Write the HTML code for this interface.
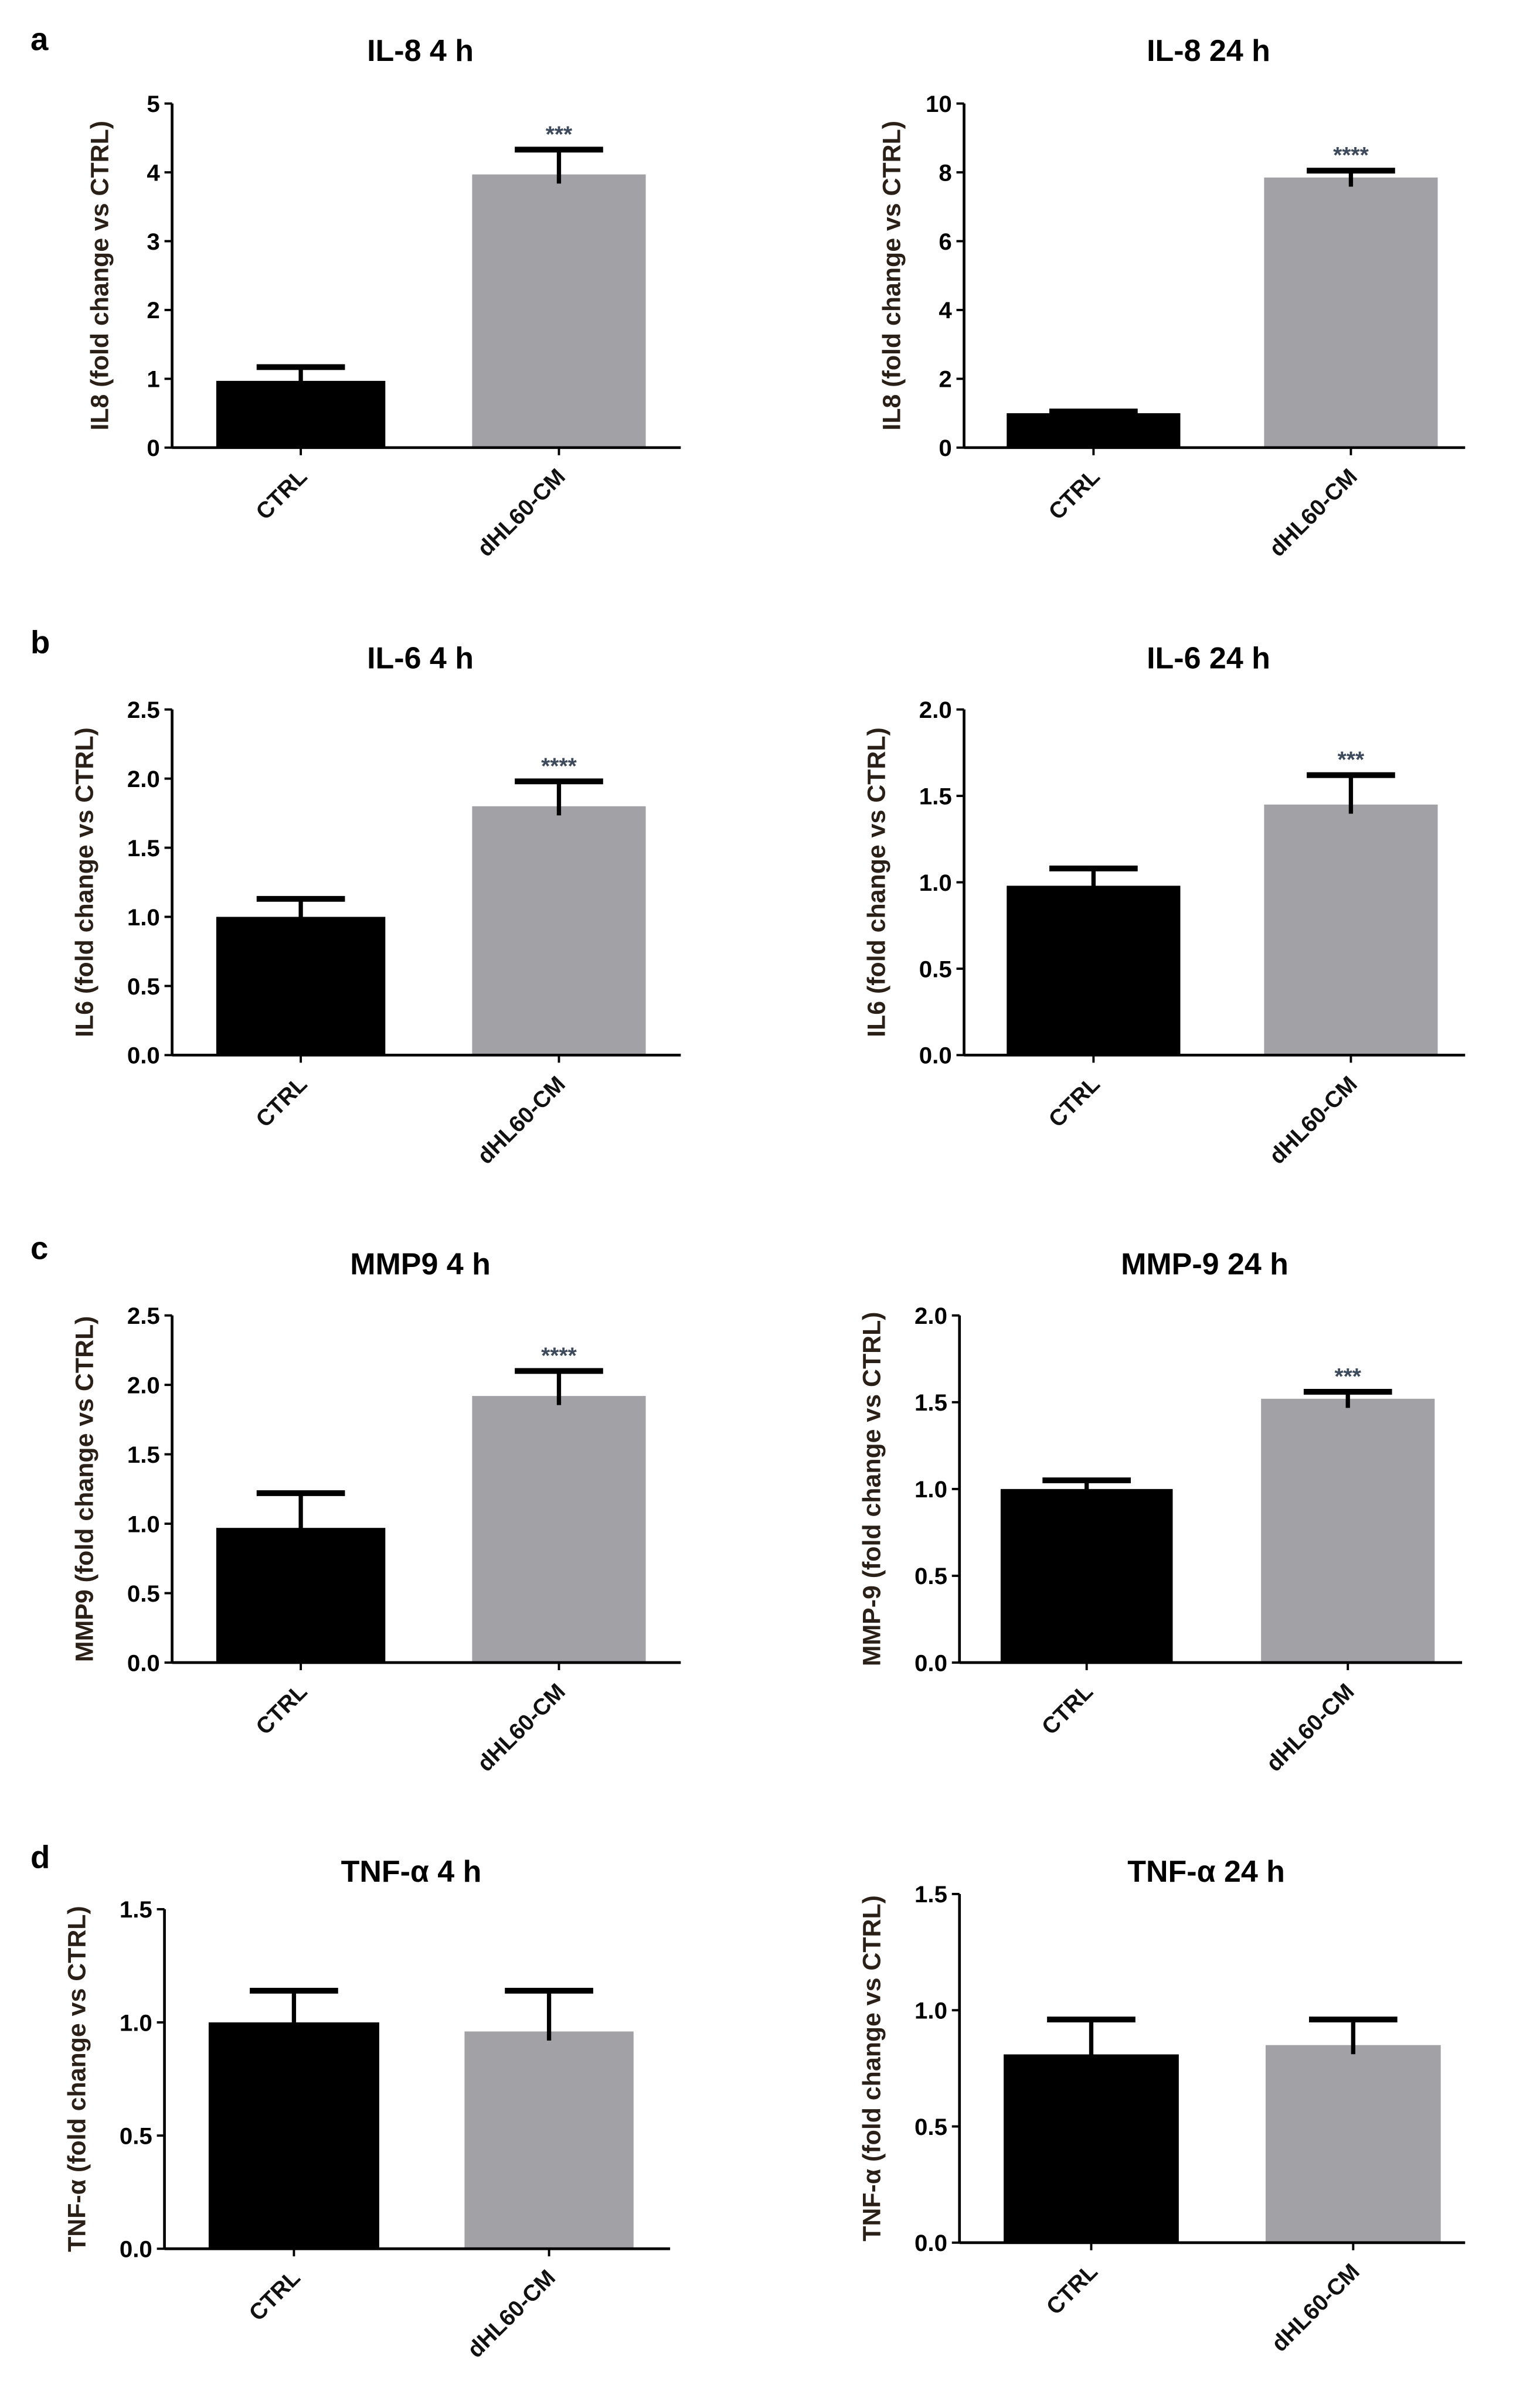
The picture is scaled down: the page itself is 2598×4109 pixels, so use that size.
<!DOCTYPE html>
<html><head><meta charset="utf-8"><style>
html,body{margin:0;padding:0;background:#fff;}
svg{display:block;font-family:"Liberation Sans",Arial,sans-serif;}
</style></head><body>
<svg id="fig" width="2598" height="4109" viewBox="0 0 1000 1581.6" xmlns="http://www.w3.org/2000/svg"></svg>
<script>
// ---- data ----
const categories = ["CTRL", "dHL60-CM"];
const panelTitles = ["IL-8  4 h", "IL-8 24 h", "IL-6  4 h", "IL-6 24 h", "MMP9 4 h", "MMP-9 24 h", "TNF-\u03B1 4 h", "TNF-\u03B1 24 h"];
const yTitles = ["IL8 (fold change vs CTRL)", "IL8 (fold change vs CTRL)", "IL6 (fold change vs CTRL)", "IL6 (fold change vs CTRL)", "MMP9 (fold change vs CTRL)", "MMP-9 (fold change vs CTRL)", "TNF-\u03B1 (fold change vs CTRL)", "TNF-\u03B1 (fold change vs CTRL)"];
const ctrlValues = [0.97, 1.0, 1.0, 0.98, 0.97, 1.0, 1.0, 0.81];
const ctrlErrTop = [1.17, 1.05, 1.13, 1.08, 1.22, 1.05, 1.14, 0.96];
const treatValues = [3.97, 7.85, 1.8, 1.45, 1.92, 1.52, 0.96, 0.85];
const treatErrTop = [4.33, 8.05, 1.98, 1.62, 2.1, 1.56, 1.14, 0.96];
const stars = ["***", "****", "****", "***", "****", "***", "", ""];
const yMax = [5, 10, 2.5, 2.0, 2.5, 2.0, 1.5, 1.5];
const yStep = [1, 2, 0.5, 0.5, 0.5, 0.5, 0.5, 0.5];
const tickDecimals = [0, 0, 1, 1, 1, 1, 1, 1];
const panelLetters = ["a", "b", "c", "d"];

// ---- layout (not data) ----
const layout = [
  {ax:113, top:68, bot:294, b1:[142,253], b2:[310,424], end:447, ty:33},
  {ax:633, top:68, bot:294, b1:[661,775], b2:[830,944], end:962, ty:33},
  {ax:113, top:466, bot:693, b1:[142,253], b2:[310,424], end:447, ty:432},
  {ax:633, top:466, bot:693, b1:[661,775], b2:[830,944], end:962, ty:432},
  {ax:113, top:864, bot:1092, b1:[142,253], b2:[310,424], end:447, ty:830},
  {ax:630, top:864, bot:1092, b1:[657,770], b2:[828,942], end:960, ty:830},
  {ax:108, top:1254, bot:1477, b1:[137,249], b2:[305,416], end:440, ty:1229},
  {ax:630, top:1244, bot:1473, b1:[659,774], b2:[831,946], end:962, ty:1229}
];
const letterY = [26, 422, 820, 1220];

const NS = "http://www.w3.org/2000/svg";
const svg = document.getElementById("fig");
function mk(tag, attrs, parent) {
  const e = document.createElementNS(NS, tag);
  for (const k in attrs) e.setAttribute(k, attrs[k]);
  (parent || svg).appendChild(e);
  return e;
}

panelLetters.forEach((L, i) => {
  const t = mk("text", {x:20, y:letterY[i]+7, "font-size":21, "font-weight":"bold", fill:"#000"});
  
  
  t.textContent = L;
});

layout.forEach((p, i) => {
  const g = mk("g", {});
  
  
  const yScale = v => p.bot - (v / yMax[i]) * (p.bot - p.top);

  const title = mk("text", {x:(p.ax + p.end)/2 - 4, y:p.ty+7, "font-size":20, "font-weight":"bold", "text-anchor":"middle", fill:"#000"}, g);
  
  
  title.textContent = panelTitles[i];

  const vals = [ctrlValues[i], treatValues[i]];
  const errs = [ctrlErrTop[i], treatErrTop[i]];
  const colors = ["#000", "#a2a1a5"];
  [p.b1, p.b2].forEach((b, j) => {
    const y = yScale(vals[j]);
    const r = mk("rect", {x:b[0], y:y, width:b[1]-b[0], height:p.bot-y, fill:colors[j]}, g);
    
    
    const cx = (b[0]+b[1])/2;
    const ye = yScale(errs[j]);
    const ev = mk("line", {x1:cx, x2:cx, y1:y+6, y2:ye, stroke:"#000", "stroke-width":2.8}, g);
    
    
    const eh = mk("line", {x1:cx-29, x2:cx+29, y1:ye, y2:ye, stroke:"#000", "stroke-width":3.8}, g);
    
    
    if (j === 1 && stars[i]) {
      const s = mk("text", {x:cx, y:ye-5, "font-size":15, "font-weight":"bold", "text-anchor":"middle", fill:"#3d4a5c"}, g);
      
      
      s.textContent = stars[i];
    }
    mk("line", {x1:cx, x2:cx, y1:p.bot, y2:p.bot+5, stroke:"#000", "stroke-width":1.5}, g);
    const lx = cx + 5, ly = p.bot + 20;
    const lab = mk("text", {x:lx, y:ly, "font-size":15, "font-weight":"bold", "text-anchor":"end", fill:"#111",
      transform:"rotate(-45 " + lx + " " + ly + ")"}, g);
    
    
    lab.textContent = categories[j];
  });

  const ya = mk("line", {x1:p.ax, x2:p.ax, y1:p.top, y2:p.bot, stroke:"#000", "stroke-width":1.8}, g);
  
  
  const xa = mk("line", {x1:p.ax, x2:p.end, y1:p.bot, y2:p.bot, stroke:"#000", "stroke-width":1.8}, g);
  
  

  const n = Math.round(yMax[i] / yStep[i]);
  for (let k = 0; k <= n; k++) {
    const v = k * yStep[i];
    const y = yScale(v);
    mk("line", {x1:p.ax-5, x2:p.ax, y1:y, y2:y, stroke:"#000", "stroke-width":1.5}, g);
    const t = mk("text", {x:p.ax-8, y:y+5.5, "font-size":15.5, "font-weight":"bold", "text-anchor":"end", fill:"#000"}, g);
    
    
    t.textContent = v.toFixed(tickDecimals[i]);
  }

  const tx = p.ax - (tickDecimals[i] ? 52 : 42);
  const tyy = (p.top + p.bot)/2;
  const yt = mk("text", {x:tx, y:tyy, "font-size":16.5, "font-weight":"bold", "text-anchor":"middle", fill:"#2a2018",
    transform:"rotate(-90 " + tx + " " + tyy + ")"}, g);
  
  
  yt.textContent = yTitles[i];
});
</script>
</body></html>
